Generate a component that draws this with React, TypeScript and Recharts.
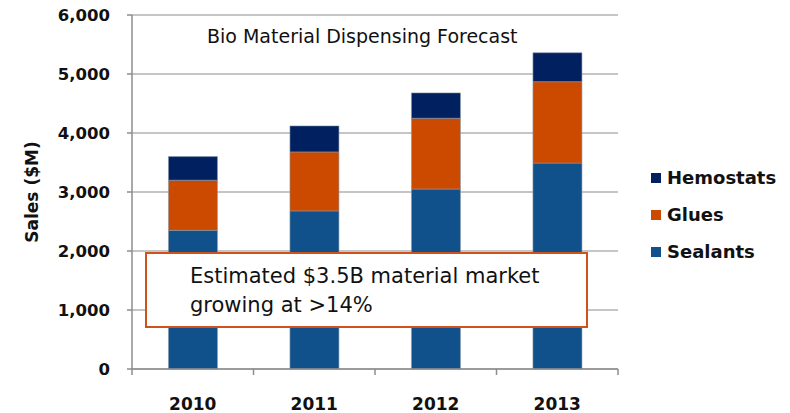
import { Bar, BarChart, CartesianGrid, XAxis, YAxis } from "recharts";

const years = ["2010", "2011", "2012", "2013"];
const sealants = [2350, 2680, 3050, 3490];
const glues = [850, 1000, 1200, 1380];
const hemostats = [400, 440, 430, 490];
const yTicks = [0, 1000, 2000, 3000, 4000, 5000, 6000];

const series = [
  { key: "Sealants", color: "#10508B" },
  { key: "Glues", color: "#CC4A00" },
  { key: "Hemostats", color: "#00205F" },
];

const data = years.map((year, i) => ({
  year,
  Sealants: sealants[i],
  Glues: glues[i],
  Hemostats: hemostats[i],
}));

const FONT = "'DejaVu Sans', sans-serif";
const GRID = "#8c8c8c";

function YearTick(props: any) {
  const { x, y, payload, index } = props;
  const half = payload?.offset ?? 0;
  return (
    <g>
      <line x1={x - half} x2={x - half} y1={y} y2={y + 6} stroke={GRID} strokeWidth={1.5} />
      {index === years.length - 1 && (
        <line x1={x + half} x2={x + half} y1={y} y2={y + 6} stroke={GRID} strokeWidth={1.5} />
      )}
      <text x={x} y={y + 41} textAnchor="middle" fontFamily={FONT} fontWeight="bold" fontSize={17} fill="#111">
        {payload.value}
      </text>
    </g>
  );
}

export default function App() {
  return (
    <div style={{ position: "absolute", left: 0, top: 0, width: 790, height: 413, background: "#fff", fontFamily: FONT }}>
      <BarChart
        width={790}
        height={413}
        data={data}
        margin={{ top: 15, right: 172, left: 0, bottom: 0 }}
        barCategoryGap="30%"
      >
        <CartesianGrid vertical={false} stroke={GRID} strokeWidth={1.2} />
        <XAxis
          dataKey="year"
          height={44}
          axisLine={{ stroke: GRID, strokeWidth: 1.5 }}
          tickLine={false}
          tickSize={0}
          tickMargin={0}
          tick={<YearTick />}
          interval={0}
        />
        <YAxis
          width={132}
          domain={[0, 6000]}
          ticks={yTicks}
          tickFormatter={(v) => Number(v).toLocaleString("en-US")}
          axisLine={{ stroke: GRID, strokeWidth: 1.5 }}
          tickLine={{ stroke: GRID, strokeWidth: 1.5 }}
          tickSize={5}
          tickMargin={17}
          tick={{ fill: "#111", fontFamily: FONT, fontWeight: "bold", fontSize: 16.5 }}
          label={{
            content: ({ viewBox }: any) => {
              const cx = (viewBox?.x ?? 0) + 32;
              const cy = (viewBox?.y ?? 0) + (viewBox?.height ?? 0) / 2;
              return (
                <text
                  x={cx}
                  y={cy}
                  transform={`rotate(-90 ${cx} ${cy})`}
                  textAnchor="middle"
                  dominantBaseline="central"
                  fontFamily={FONT}
                  fontWeight="bold"
                  fontSize={17}
                  fill="#111"
                >
                  Sales ($M)
                </text>
              );
            },
          }}
        />
        {series.map((s) => (
          <Bar
            key={s.key}
            dataKey={s.key}
            stackId="sales"
            fill={s.color}
            stroke="#8a98aa"
            strokeWidth={0.6}
            isAnimationActive={false}
          />
        ))}
      </BarChart>

      <div
        style={{
          position: "absolute",
          left: 207,
          top: 26,
          fontSize: 19,
          lineHeight: "20px",
          color: "#111",
          whiteSpace: "nowrap",
        }}
      >
        Bio Material Dispensing Forecast
      </div>

      <div style={{ position: "absolute", left: 651, top: 159 }}>
        {[...series].reverse().map((s) => (
          <div key={s.key} style={{ display: "flex", alignItems: "center", height: 37 }}>
            <span style={{ width: 10, height: 10, background: s.color, marginRight: 6, display: "inline-block" }} />
            <span style={{ fontWeight: "bold", fontSize: 18, color: "#111" }}>{s.key}</span>
          </div>
        ))}
      </div>

      <div
        style={{
          position: "absolute",
          left: 145,
          top: 252,
          width: 443,
          height: 76,
          boxSizing: "border-box",
          border: "2px solid #D0511A",
          background: "#fff",
          paddingLeft: 43,
          paddingTop: 8,
          fontSize: 21,
          lineHeight: "29px",
          color: "#111",
          whiteSpace: "nowrap",
        }}
      >
        Estimated $3.5B material market
        <br />
        growing at &gt;14%
      </div>
    </div>
  );
}
